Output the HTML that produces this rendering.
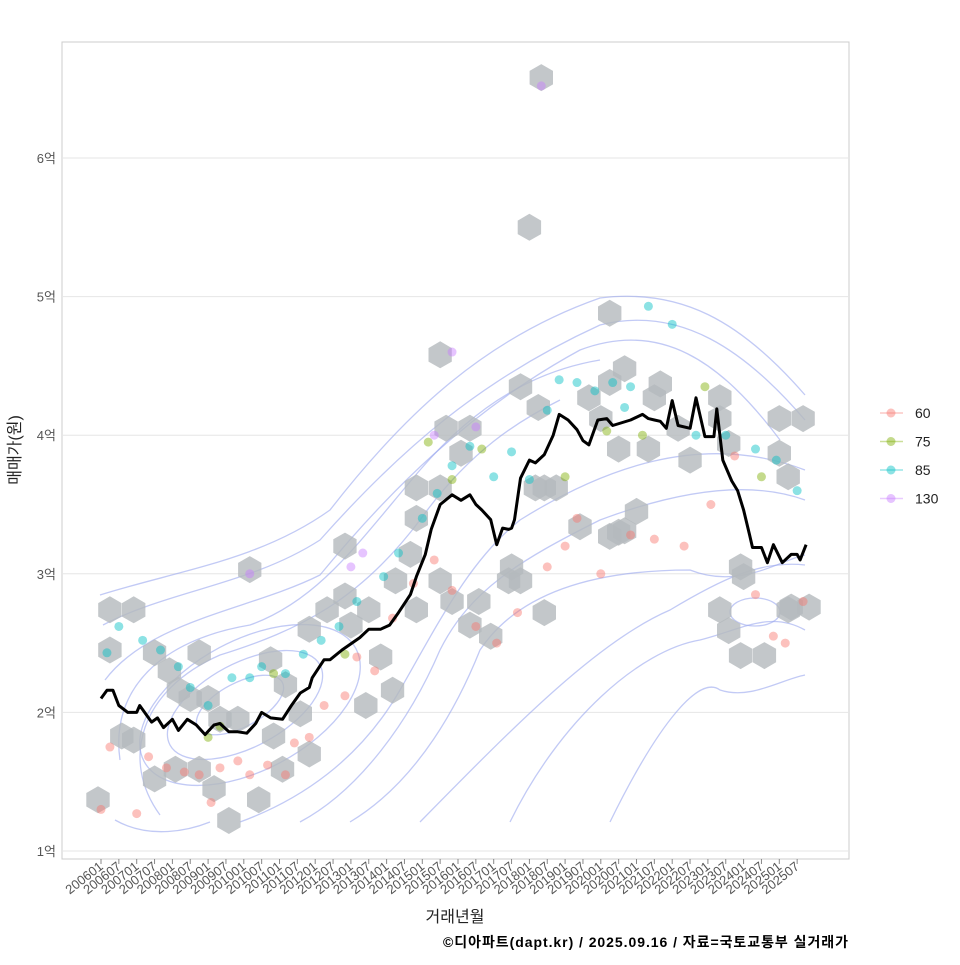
<!DOCTYPE html>
<html><head><meta charset="utf-8"><style>
body{margin:0;background:#fff;font-family:"Liberation Sans","Noto Sans CJK KR",sans-serif}
svg text{font-family:"Liberation Sans","Noto Sans CJK KR",sans-serif}
</style></head><body>
<svg id="chart" width="960" height="960" viewBox="0 0 960 960">
<rect x="62" y="42" width="787" height="817" fill="#fff" stroke="#cccccc"/>
<g id="grid"></g>
<g id="contours" fill="none" stroke="#9aa6ee" stroke-opacity="0.6" stroke-width="1.3">
<path d="M100,595 C180,570 260,560 330,510 C400,420 480,340 600,298 C680,288 740,320 805,395"/>
<path d="M103,625 C170,590 250,585 320,540 C400,450 480,380 600,325 C680,305 745,350 805,420"/>
<path d="M105,680 C150,620 250,610 320,575 C390,490 470,410 580,350 C660,320 720,360 780,440"/>
<path d="M120,760 C110,690 160,640 250,625 C320,600 360,540 420,470 C480,400 540,370 600,360"/>
<path d="M160,815 C120,760 140,690 220,655 C300,630 360,600 420,520 C470,450 520,420 560,400"/>
<path d="M115,820 C150,840 190,830 210,822"/>
<path d="M240,822 C300,800 360,760 400,690 C440,620 470,560 520,520 C600,470 700,430 805,470"/>
<path d="M300,822 C360,790 410,720 440,650 C470,590 520,560 600,520 C680,490 750,480 805,500"/>
<path d="M350,822 C420,780 460,700 480,650 C520,590 600,570 690,570 C740,590 780,560 805,555"/>
<path d="M420,822 C520,720 600,640 670,610 C720,580 760,560 805,565"/>
<path d="M510,822 C560,720 640,650 700,640 C740,630 770,610 805,630"/>
<path d="M610,822 C660,720 700,675 720,690 C750,700 780,680 805,675"/>
<ellipse cx="250" cy="705" rx="120" ry="65" transform="rotate(-28 250 705)"/>
<ellipse cx="245" cy="705" rx="85" ry="42" transform="rotate(-28 245 705)"/>
<ellipse cx="240" cy="705" rx="48" ry="22" transform="rotate(-28 240 705)"/>
<ellipse cx="755" cy="612" rx="25" ry="14"/>
</g>
<g id="hexes"></g>
<g id="points"></g>
<g id="line"></g>
<g id="axes"></g>
<text x="20" y="450" font-size="16" fill="#222" text-anchor="middle" transform="rotate(-90 20 450)">매매가(원)</text>
<text x="455" y="922" font-size="16" fill="#222" text-anchor="middle">거래년월</text>
<text x="848" y="947" font-size="14" font-weight="bold" fill="#000" text-anchor="end" textLength="405">©디아파트(dapt.kr) / 2025.09.16 / 자료=국토교통부 실거래가</text>
<g id="legend"></g>
</svg>
<script>
const ns="http://www.w3.org/2000/svg";
const yTicks=[1,2,3,4,5,6];
const yTickLabels=["1억","2억","3억","4억","5억","6억"];
const lineMonths=[0,2,4,6,9,12,13,17,19,21,24,26,29,32,35,38,40,43,46,49,52,54,57,61,64,67,70,71,75,77,81,87,90,94,97,100,104,106,109,111,114,118,118,121,124,126,128,131,133,135,137,138,139,141,144,146,149,152,154,157,160,162,164,167,170,172,178,182,184,186,188,190,192,194,198,200,203,206,207,209,212,214,216,218,219,222,224,226,229,232,234,235,237];
const lineValues=[2.10,2.16,2.16,2.05,2.0,2.0,2.05,1.93,1.96,1.89,1.95,1.87,1.95,1.91,1.84,1.91,1.92,1.86,1.86,1.85,1.92,2.0,1.96,1.95,2.05,2.14,2.18,2.25,2.38,2.38,2.45,2.54,2.60,2.60,2.63,2.72,2.85,2.98,3.14,3.32,3.50,3.57,3.57,3.53,3.57,3.50,3.46,3.39,3.21,3.33,3.32,3.33,3.39,3.69,3.82,3.80,3.86,4.0,4.15,4.11,4.04,3.96,3.93,4.11,4.12,4.07,4.11,4.15,4.12,4.11,4.10,4.05,4.25,4.07,4.05,4.27,3.99,3.99,4.19,3.82,3.67,3.60,3.46,3.28,3.19,3.19,3.08,3.21,3.08,3.14,3.14,3.10,3.21];
const hexMonths=[-1,3,11,3,7,11,18,23,26,33,30,36,40,46,18,25,33,38,43,50,57,62,67,58,53,61,70,70,76,82,82,90,84,94,98,89,99,104,106,106,114,116,124,121,114,114,118,106,124,131,127,137,141,149,138,146,153,149,147,141,161,164,171,176,168,174,171,176,180,186,188,184,194,208,208,211,198,215,216,208,211,215,223,228,228,236,231,232,231,238,144,148,171,174];
const hexValues=[1.37,2.74,2.74,2.45,1.83,1.80,2.43,2.30,2.16,2.43,2.1,2.1,1.95,1.95,1.52,1.59,1.59,1.45,1.22,3.03,2.38,2.2,1.99,1.83,1.37,1.59,1.7,2.6,2.74,3.2,2.84,2.74,2.63,2.4,2.16,2.05,2.95,3.14,3.4,3.62,3.62,4.05,4.05,3.87,4.58,2.95,2.8,2.74,2.63,2.55,2.8,2.95,2.95,2.72,3.05,3.62,3.62,3.62,4.2,4.35,3.34,4.27,4.38,4.48,4.12,3.9,3.27,3.31,3.45,4.27,4.37,3.9,4.05,4.27,4.12,3.94,3.82,3.05,2.98,2.74,2.59,2.41,2.41,4.12,3.87,4.12,3.7,2.76,2.74,2.76,5.5,6.58,4.88,3.3];
const ptCats=["60","75","85","130"];
const ptColors=["#f8766d","#7cae00","#00bfc4","#c77cff"];
const ptMonths=[0,3,12,16,22,28,33,37,40,46,50,56,62,65,70,75,82,86,92,98,105,112,118,126,133,140,150,156,160,168,178,186,196,205,213,220,226,230,236, 2,6,14,20,26,30,36,44,50,54,62,68,74,80,86,95,100,108,113,118,124,132,138,144,150,154,160,166,172,176,178,184,192,200,210,220,227,234, 36,40,58,82,110,118,128,156,170,182,203,222, 50,84,88,112,118,126,148];
const ptVals=[1.30,1.75,1.27,1.68,1.60,1.57,1.55,1.35,1.60,1.65,1.55,1.62,1.55,1.78,1.82,2.05,2.12,2.40,2.30,2.68,2.93,3.10,2.88,2.62,2.50,2.72,3.05,3.20,3.40,3.00,3.28,3.25,3.20,3.50,3.85,2.85,2.55,2.50,2.80, 2.43,2.62,2.52,2.45,2.33,2.18,2.05,2.25,2.25,2.33,2.28,2.42,2.52,2.62,2.80,2.98,3.15,3.40,3.58,3.78,3.92,3.70,3.88,3.68,4.18,4.40,4.38,4.32,4.38,4.20,4.35,4.93,4.80,4.00,4.00,3.90,3.82,3.60, 1.82,1.90,2.28,2.42,3.95,3.68,3.90,3.70,4.03,4.00,4.35,3.70, 3.00,3.05,3.15,4.00,4.60,4.06,6.52];
const ptCatIdx=[0,0,0,0,0,0,0,0,0,0,0,0,0,0,0,0,0,0,0,0,0,0,0,0,0,0,0,0,0,0,0,0,0,0,0,0,0,0,0, 2,2,2,2,2,2,2,2,2,2,2,2,2,2,2,2,2,2,2,2,2,2,2,2,2,2,2,2,2,2,2,2,2,2,2,2,2,2, 1,1,1,1,1,1,1,1,1,1,1,1, 3,3,3,3,3,3,3];
const xLabelsStart=2006;

const X=m=>101+m*2.975;
const Y=v=>851-(v-1)*138.6;
function mk(tag,attrs,parent){const e=document.createElementNS(ns,tag);for(const k in attrs)e.setAttribute(k,attrs[k]);parent.appendChild(e);return e;}
const grid=document.getElementById('grid'),axes=document.getElementById('axes');
yTicks.forEach((v,i)=>{
  const l=mk('line',{x1:62,x2:849,y1:Y(v),y2:Y(v),stroke:'#e6e6e6','stroke-width':1},grid);
  
  
  const t=mk('text',{x:56,y:Y(v)+5,'font-size':13,fill:'#555','text-anchor':'end'},axes);
  t.textContent=yTickLabels[i];
  
  
});
for(let i=0;i<40;i++){
  const m=i*6,x=X(m);
  const tk=mk('line',{x1:x,x2:x,y1:859,y2:864,stroke:'#888'},axes);
  
  
  const lab=String(xLabelsStart+Math.floor(m/12))+(m%12===0?'01':'07');
  const t=mk('text',{x:x+3,y:868,'font-size':13,fill:'#555','text-anchor':'end',transform:`rotate(-38 ${x+3} 868)`},axes);
  t.textContent=lab;
  
  
}
const hexG=document.getElementById('hexes');
hexMonths.forEach((m,i)=>{
  const cx=X(m),cy=Y(hexValues[i]),r=13.5;let p=[];
  for(let k=0;k<6;k++){const a=Math.PI/3*k+Math.PI/6;p.push((cx+r*Math.cos(a)).toFixed(1)+','+(cy+r*Math.sin(a)).toFixed(1));}
  const h=mk('polygon',{points:p.join(' '),fill:'#b4b9bd','fill-opacity':0.8},hexG);
  
  
});
const pg=document.getElementById('points');
ptMonths.forEach((m,i)=>{
  const c=mk('circle',{cx:X(m),cy:Y(ptVals[i]),r:4.5,fill:ptColors[ptCatIdx[i]],'fill-opacity':0.45},pg);
  
  
});
const d=lineMonths.map((m,i)=>(i?'L':'M')+X(m).toFixed(1)+','+Y(lineValues[i]).toFixed(1)).join(' ');
const pl=mk('path',{d:d,fill:'none',stroke:'#000','stroke-width':3,'stroke-linejoin':'round'},document.getElementById('line'));


const lg=document.getElementById('legend');
ptCats.forEach((c,i)=>{
  const y=413+i*28.5;
  const g=mk('g',{},lg);
  
  
  mk('line',{x1:880,x2:903,y1:y,y2:y,stroke:ptColors[i],'stroke-opacity':0.4,'stroke-width':1.5},g);
  mk('circle',{cx:891,cy:y,r:4.5,fill:ptColors[i],'fill-opacity':0.45},g);
  const t=mk('text',{x:915,y:y+5,'font-size':14,fill:'#222'},g);t.textContent=c;
});
</script>
</body></html>
